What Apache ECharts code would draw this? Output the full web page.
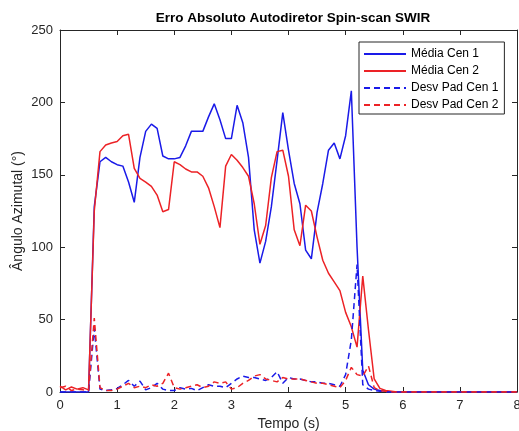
<!DOCTYPE html>
<html>
<head>
<meta charset="utf-8">
<script src="https://cdn.jsdelivr.net/npm/echarts@6/dist/echarts.min.js"></script>
<style>
  html, body { margin: 0; padding: 0; background: #fff; }
  #chart { width: 519px; height: 431px; }
</style>
</head>
<body>
<div id="chart"></div>
<script>
// tempo (s)
var tempo = [0, 0.1, 0.2, 0.3, 0.4, 0.5, 0.6, 0.7, 0.8, 0.9,
  1.0, 1.1, 1.2, 1.3, 1.4, 1.5, 1.6, 1.7, 1.8, 1.9,
  2.0, 2.1, 2.2, 2.3, 2.4, 2.5, 2.6, 2.7, 2.8, 2.9,
  3.0, 3.1, 3.2, 3.3, 3.4, 3.5, 3.6, 3.7, 3.8, 3.9,
  4.0, 4.1, 4.2, 4.3, 4.4, 4.5, 4.6, 4.7, 4.8, 4.9,
  5.0, 5.1, 5.2, 5.3, 5.4, 5.5, 5.6, 5.7, 5.8, 5.9,
  6.0, 8.0];
var mediaCen1 = [0, 0, 0, 0, 0, 0, 128, 159, 162, 159,
  157, 156, 145, 131, 162, 180, 185, 182, 163, 161,
  161, 162, 170, 180, 180, 180, 190, 199, 188, 175,
  175, 198, 186, 162, 112, 89, 104, 128, 160, 193,
  167, 144, 130, 98, 92, 124, 144, 167, 172, 161,
  177, 208, 100, 15, 5, 2, 1, 0.5, 0, 0,
  0, 0];
var mediaCen2 = [4, 1.5, 3.5, 2, 3, 1.5, 125, 166, 170.6, 172,
  173, 177, 178, 154.5, 147.5, 145, 142, 136, 124.5, 126,
  159, 157, 154, 152, 152, 149, 141, 128, 113.5, 156,
  164, 160, 155, 149, 130, 102, 115, 148, 166, 167,
  149, 112, 101, 129, 125, 107, 91, 82, 76, 70,
  55, 45, 31, 80, 43, 9, 2.5, 1, 0.5, 0,
  0, 0];
var desvCen1 = [0, 0, 0, 0, 0, 0, 44, 2, 1, 1.5,
  2.5, 5, 8, 4, 7.5, 1.5, 3, 6, 2, 1,
  1, 3, 2, 2.5, 1, 3, 5, 4, 4, 3,
  6, 9, 11, 10, 10, 9, 8, 10, 14, 6,
  10, 9, 9, 8, 7, 7, 6, 6, 5, 4,
  12, 36, 88, 5, 2, 1, 0.5, 0, 0, 0,
  0, 0];
var desvCen2 = [3, 4, 1, 2, 1.5, 1, 51, 3, 1, 1,
  2, 4, 6, 3, 4, 3, 5, 4, 6, 13,
  3, 2, 3, 4, 5, 3, 4, 7, 6, 7,
  2, 3, 6, 8, 11, 12, 9, 8, 7, 10,
  9, 9, 9, 8, 7, 6, 6, 5, 4, 3,
  8, 17, 12, 11, 18, 3, 1, 0.5, 0, 0,
  0, 0];

var nomes = ['Média Cen 1', 'Média Cen 2', 'Desv Pad Cen 1', 'Desv Pad Cen 2'];
var azul = '#1a1ae8';
var vermelho = '#ec2226';
var fonte = 'Liberation Sans, Arial, sans-serif';

function pares(vals) {
  var out = [];
  for (var i = 0; i < tempo.length; i++) {
    out.push([tempo[i], vals[i]]);
  }
  return out;
}

function serie(nome, vals, cor, tipo) {
  return {
    name: nome,
    type: 'line',
    data: pares(vals),
    symbol: 'none',
    animation: false,
    lineStyle: { color: cor, width: 1.5, type: tipo },
    itemStyle: { color: cor }
  };
}

var eixoTexto = { color: '#262626', fontFamily: fonte, fontSize: 13 };
// onZero desligado, senao os eixos de cima/direita colam no zero
function linhaEixo() { return { show: true, onZero: false, lineStyle: { color: '#262626', width: 1 } }; }
function tickDentro() { return { show: true, inside: true, length: 5, lineStyle: { color: '#262626' } }; }

var myChart = echarts.init(document.getElementById('chart'));
var option = {
  backgroundColor: '#fff',
  title: {
    text: 'Erro Absoluto Autodiretor Spin-scan SWIR',
    left: 288, top: 6, textAlign: 'center',
    textStyle: { fontFamily: fonte, fontSize: 13.5, fontWeight: 'bold', color: '#000' }
  },
  grid: {
    left: 60, right: 2, top: 30, bottom: 39,
    outerBoundsMode: 'none', containLabel: false
  },
  legend: {
    data: nomes,
    orient: 'vertical',
    left: 359, top: 42,
    itemWidth: 42, itemHeight: 14, itemGap: 3,
    padding: [5, 6, 2, 4],
    borderColor: '#262626', borderWidth: 1,
    backgroundColor: '#fff',
    itemStyle: { opacity: 0 },
    textStyle: { fontFamily: fonte, fontSize: 12, color: '#000', lineHeight: 14 }
  },
  xAxis: [{
    type: 'value', min: 0, max: 8, interval: 1,
    name: 'Tempo (s)', nameLocation: 'middle', nameGap: 24,
    nameTextStyle: { fontFamily: fonte, fontSize: 14, color: '#262626' },
    axisLine: linhaEixo(),
    axisTick: tickDentro(),
    axisLabel: Object.assign({ margin: 7 }, eixoTexto),
    splitLine: { show: false }
  }, {
    type: 'value', min: 0, max: 8, interval: 1, position: 'top',
    axisLine: linhaEixo(),
    axisTick: tickDentro(),
    axisLabel: { show: false },
    splitLine: { show: false }
  }],
  yAxis: [{
    type: 'value', min: 0, max: 250, interval: 50,
    name: 'Ângulo Azimutal (°)', nameLocation: 'middle', nameGap: 35,
    nameMoveOverlap: false,
    nameTextStyle: { fontFamily: fonte, fontSize: 14, color: '#262626' },
    axisLine: linhaEixo(),
    axisTick: tickDentro(),
    axisLabel: Object.assign({ margin: 7 }, eixoTexto),
    splitLine: { show: false }
  }, {
    type: 'value', min: 0, max: 250, interval: 50, position: 'right',
    axisLine: linhaEixo(),
    axisTick: tickDentro(),
    axisLabel: { show: false },
    splitLine: { show: false }
  }],
  series: [
    serie(nomes[0], mediaCen1, azul, 'solid'),
    serie(nomes[1], mediaCen2, vermelho, 'solid'),
    serie(nomes[2], desvCen1, azul, [6, 4]),
    serie(nomes[3], desvCen2, vermelho, [6, 4]),
    {
      // serie vazia so para os eixos de cima e da direita aparecerem
      name: 'eixos', type: 'line', xAxisIndex: 1, yAxisIndex: 1,
      data: [[0, 0]], symbol: 'none', silent: true, animation: false,
      lineStyle: { opacity: 0 }
    }
  ]
};
myChart.setOption(option);
</script>
</body>
</html>
